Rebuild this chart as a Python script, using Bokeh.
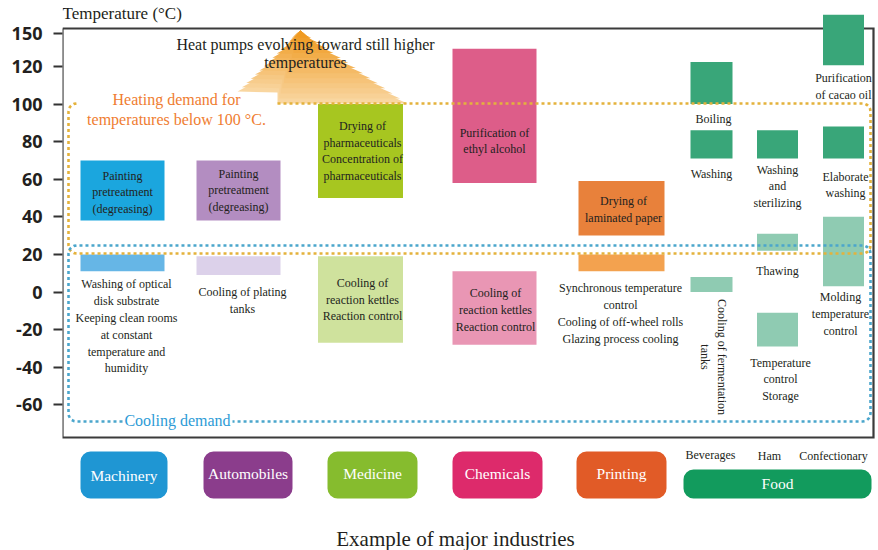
import numpy as np
from bokeh.plotting import figure
from bokeh.models import Range1d, FixedTicker, BoxAnnotation, ColumnDataSource
from bokeh.core.properties import value
from bokeh.embed import file_html
from bokeh.resources import INLINE

# ---------------- data ----------------
columns = ["Machinery", "Automobiles", "Medicine", "Chemicals", "Printing",
           "Beverages", "Ham", "Confectionary"]
industries = ["Machinery", "Automobiles", "Medicine", "Chemicals", "Printing", "Food"]
food_subgroups = ["Beverages", "Ham", "Confectionary"]
y_tick_values = [-60, -40, -20, 0, 20, 40, 60, 80, 100, 120, 150]

heat_column = ["Machinery", "Automobiles", "Medicine", "Chemicals", "Printing",
               "Beverages", "Beverages", "Ham", "Confectionary", "Confectionary"]
heat_low = [38, 38, 50, 58, 30, 100, 71, 71, 121, 71]
heat_high = [70, 70, 100, 136, 59, 124, 86, 86, 167, 88]
heat_use = ["Painting\npretreatment\n(degreasing)",
            "Painting\npretreatment\n(degreasing)",
            "Drying of\npharmaceuticals\nConcentration of\npharmaceuticals",
            "Purification of\nethyl alcohol",
            "Drying of\nlaminated paper",
            "Boiling", "Washing", "Washing\nand\nsterilizing",
            "Purification\nof cacao oil", "Elaborate\nwashing"]

cool_column = ["Machinery", "Automobiles", "Medicine", "Chemicals", "Printing",
               "Beverages", "Ham", "Ham", "Confectionary"]
cool_low = [11, 9, -27, -28, 11, 0, 22, -29, 3]
cool_high = [20, 19, 19, 11, 20, 8, 31, -11, 40]
cool_use = ["Washing of optical\ndisk substrate\nKeeping clean rooms\nat constant\ntemperature and\nhumidity",
            "Cooling of plating\ntanks",
            "Cooling of\nreaction kettles\nReaction control",
            "Cooling of\nreaction kettles\nReaction control",
            "Synchronous temperature\ncontrol\nCooling of off-wheel rolls\nGlazing process cooling",
            "Cooling of fermentation\ntanks",
            "Thawing",
            "Temperature\ncontrol\nStorage",
            "Molding\ntemperature\ncontrol"]

# ---------------- layout / style ----------------
W, H = 878, 550
PXU = 1.88          # pixels per axis unit
Y0 = 291.5          # pixel row of the 0 tick


def iy(y):          # pixel row -> axis unit
    return (Y0 - np.asarray(y, dtype=float)) / PXU


def tpos(t):        # broken axis: compressed above 120
    t = np.asarray(t, dtype=float)
    return np.where(t <= 120, t, 120 + (t - 120) * 17.5 / 30)


col_x = dict(zip(columns, [122, 238, 360, 494, 621, 711, 777, 843]))
col_w = dict(zip(columns, [84, 84, 85, 84, 86, 42, 41, 41]))
food_cols = {"Beverages", "Ham", "Confectionary"}
heat_color = {"Machinery": "#1ba6de", "Automobiles": "#b38dc1", "Medicine": "#a7c620",
              "Chemicals": "#dd5d89", "Printing": "#e8813b"}
cool_color = {"Machinery": "#66b6e6", "Automobiles": "#dcd1ea", "Medicine": "#cfe29d",
              "Chemicals": "#e996b4", "Printing": "#f3a24f"}
FOOD_HEAT, FOOD_COOL = "#39a679", "#8fcbb2"

heat_label_mode = ["in", "in", "in", "in", "in", "below", "below", "below", "below", "below"]
heat_label_off = [(0, 2), (0, 0), (2, 0), (0, 25), (2, 1), (2, 7.5), (0, 8), (0, 4), (0, 6), (2, 11)]
cool_label_mode = ["below", "below", "in", "in", "below", "rot", "below", "below", "below"]
cool_label_off = [(4, 6), (4, 10), (2, 0), (1, 2), (-1, 10), (2, 65), (0, 13), (3, 9), (-3, 4)]

SERIF = value("Liberation Serif")

p = figure(width=W, height=H, x_range=Range1d(62, W), y_range=Range1d(float(iy(H)), float(iy(0))),
           output_backend="svg", toolbar_location=None, x_axis_location=None,
           min_border_left=62, min_border_right=0, min_border_top=0, min_border_bottom=0)
p.outline_line_color = None
p.grid.visible = False
p.background_fill_color = "white"

# y axis with broken scale above 120
tick_pos = [float(v) for v in tpos(y_tick_values)]
overrides = {}
for tp, t in zip(tick_pos, y_tick_values):
    overrides[tp] = str(t)
    overrides[("%g" % tp)] = str(t)
p.yaxis.ticker = FixedTicker(ticks=tick_pos)
p.yaxis.major_label_overrides = overrides
p.yaxis.axis_line_color = None
p.yaxis.major_tick_out = 9
p.yaxis.major_tick_in = 0
p.yaxis.major_tick_line_width = 2
p.yaxis.major_tick_line_color = "#333333"
p.yaxis.minor_tick_line_color = None
p.yaxis.major_label_standoff = 11
p.yaxis.major_label_text_font = "Open Sans"
p.yaxis.major_label_text_font_style = "bold"
p.yaxis.major_label_text_font_size = "18px"
p.yaxis.major_label_text_color = "#231f20"

# frame
fx = [62, 873, 873, 62, 62]
fy = [28, 28, 437, 437, 28]
p.line(fx, iy(fy), line_color="#3b3b3b", line_width=2.2, line_join="miter")

# heat-pump mound (layered for a gradient)
mound = np.array([(237, 91), (250, 84), (265, 72), (280, 54), (292, 37), (300, 30), (308, 37),
                  (320, 50), (342, 70), (373, 88), (407, 103), (277, 103), (277, 92)], dtype=float)
peak = np.array([300, 30], dtype=float)
c0, c1 = np.array([249, 214, 160]), np.array([240, 155, 35])
n_layers = 14
for i in range(n_layers):
    s = 1.0 - i * 0.9 / (n_layers - 1)
    pts = peak + s * (mound - peak)
    c = (c0 + (c1 - c0) * i / (n_layers - 1)).astype(int)
    p.patch(pts[:, 0], iy(pts[:, 1]), fill_color="#%02x%02x%02x" % tuple(c), line_color=None)

# boxes


def box_source(cols, lo, hi, is_heat):
    left, right, col = [], [], []
    for c in cols:
        left.append(col_x[c] - col_w[c] / 2)
        right.append(col_x[c] + col_w[c] / 2)
        if c in food_cols:
            col.append(FOOD_HEAT if is_heat else FOOD_COOL)
        else:
            col.append(heat_color[c] if is_heat else cool_color[c])
    return ColumnDataSource(dict(left=left, right=right, bottom=tpos(lo), top=tpos(hi), color=col))


heat_src = box_source(heat_column, heat_low, heat_high, True)
cool_src = box_source(cool_column, cool_low, cool_high, False)
p.quad(left="left", right="right", bottom="bottom", top="top", fill_color="color",
       line_color=None, source=heat_src)
p.quad(left="left", right="right", bottom="bottom", top="top", fill_color="color",
       line_color=None, source=cool_src)


# dotted demand outlines
def arc(cx, cy, r, a0, a1, n=6):
    a = np.radians(np.linspace(a0, a1, n))
    return list(zip(cx + r * np.cos(a), cy - r * np.sin(a)))


r = 8
L, R = 68, 870
ht, hb = 103, 253
heat_path = [(277, ht)] + arc(R - r, ht + r, r, 90, 0) + arc(R - r, hb - r, r, 0, -90) \
    + arc(L + r, hb - r, r, -90, -180) + arc(L + r, ht + r, r, 180, 90)
ct, cb = 245, 421
cool_path = [(122, cb)] + arc(L + r, cb - r, r, -90, -180) + arc(L + r, ct + r, r, 180, 90) \
    + arc(R - r, ct + r, r, 90, 0) + arc(R - r, cb - r, r, 0, -90) + [(232, cb)]
hp = np.array(heat_path)
cp = np.array(cool_path)
p.line(hp[:, 0], iy(hp[:, 1]), line_color="#e4b23c", line_width=2.6, line_dash="3 3")
p.line(cp[:, 0], iy(cp[:, 1]), line_color="#4ba6cc", line_width=2.6, line_dash="3 3")


# box labels
def add_labels(cols, lo, hi, texts, modes, offs):
    groups = {}
    for c, l, h, t, m, (dx, dy) in zip(cols, lo, hi, texts, modes, offs):
        bl, bh = float(tpos(l)), float(tpos(h))
        x = col_x[c] + dx
        if m == "in":
            y = (bl + bh) / 2 - dy / PXU
            key = ("middle", 0.0)
        elif m == "below":
            y = bl - dy / PXU
            key = ("top", 0.0)
        else:
            y = bl - dy / PXU
            key = ("middle", -np.pi / 2)
        groups.setdefault(key, ([], [], []))
        groups[key][0].append(x)
        groups[key][1].append(y)
        groups[key][2].append(t)
    for (bl_, ang), (xs, ys, ts) in groups.items():
        p.text(x=xs, y=ys, text=ts, angle=ang, text_align="center", text_baseline=bl_,
               text_font=SERIF, text_font_size="12px", text_color="#231f20",
               text_line_height=1.2)


add_labels(heat_column, heat_low, heat_high, heat_use, heat_label_mode, heat_label_off)
add_labels(cool_column, cool_low, cool_high, cool_use, cool_label_mode, cool_label_off)

# annotations text
p.text(x=[62], y=[float(iy(13))], text=["Temperature (°C)"], text_align="left",
       text_baseline="middle", text_font=SERIF, text_font_size="17px", text_color="#231f20")
p.text(x=[305], y=[float(iy(53))], text=["Heat pumps evolving toward still higher\ntemperatures"],
       text_align="center", text_baseline="middle", text_font=SERIF, text_font_size="16px",
       text_color="#231f20", text_line_height=1.1)
p.text(x=[176], y=[float(iy(109))], text=["Heating demand for\ntemperatures below 100 °C."],
       text_align="center", text_baseline="middle", text_font=SERIF, text_font_size="16px",
       text_color="#ef7d31", text_line_height=1.15)
p.text(x=[177], y=[float(iy(420))], text=["Cooling demand"], text_align="center",
       text_baseline="middle", text_font=SERIF, text_font_size="16px", text_color="#2d9bd6")

# industry badges
badge_left = [80, 203, 327, 452, 576, 683]
badge_right = [167, 292, 417, 542, 666, 871]
badge_top = [451, 451, 451, 451, 451, 469]
badge_bottom = [498, 498, 498, 498, 498, 498]
badge_color = ["#1f96d3", "#8b3d8c", "#86bc2e", "#dd2a6b", "#e15b27", "#129b5d"]
badge_text_y = [475, 473, 473, 473, 473, 483]
for l, rr, t, b, c in zip(badge_left, badge_right, badge_top, badge_bottom, badge_color):
    p.add_layout(BoxAnnotation(left=l, right=rr, top=float(iy(t)), bottom=float(iy(b)),
                               fill_color=c, fill_alpha=1.0, line_color=None,
                               border_radius=10, level="underlay"))
p.text(x=[(l + rr) / 2 for l, rr in zip(badge_left, badge_right)], y=iy(badge_text_y),
       text=industries, text_align="center", text_baseline="middle", text_font=SERIF,
       text_font_size="15.5px", text_color="white")
p.text(x=[710, 769, 833], y=iy([454, 455, 455]), text=food_subgroups, text_align="center",
       text_baseline="middle", text_font=SERIF, text_font_size="12px", text_color="#231f20")
p.text(x=[455], y=[float(iy(538))], text=["Example of major industries"], text_align="center",
       text_baseline="middle", text_font=SERIF, text_font_size="21px", text_color="#231f20")

open("out.html", "w").write(file_html(p, INLINE))
